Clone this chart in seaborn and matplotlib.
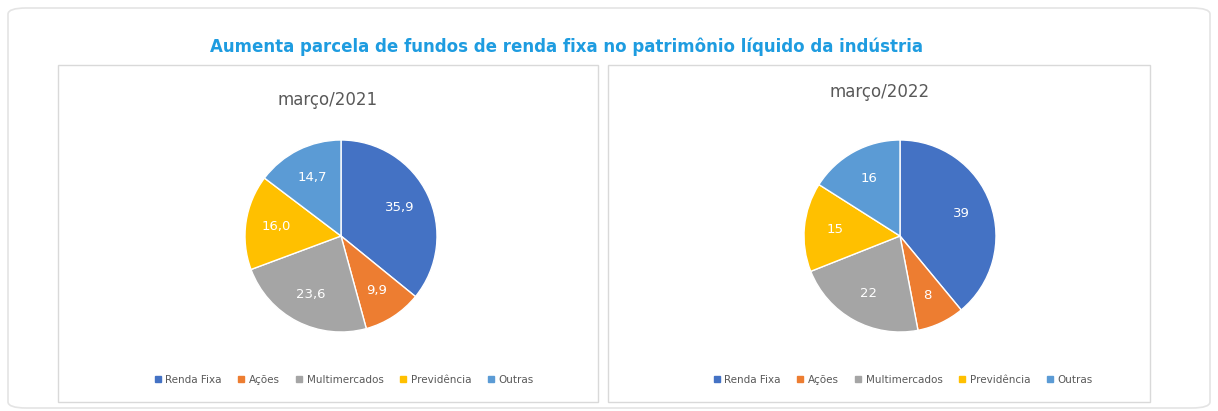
import matplotlib
matplotlib.use("Agg")
import matplotlib.pyplot as plt
import seaborn as sns
from matplotlib.patches import Rectangle, FancyBboxPatch
from matplotlib.lines import Line2D

categories = ["Renda Fixa", "Ações", "Multimercados", "Previdência", "Outras"]
values_2021 = [35.9, 9.9, 23.6, 16.0, 14.7]
labels_2021 = ["35,9", "9,9", "23,6", "16,0", "14,7"]
values_2022 = [39, 8, 22, 15, 16]
labels_2022 = ["39", "8", "22", "15", "16"]
titles = ["março/2021", "março/2022"]
main_title = "Aumenta parcela de fundos de renda fixa no patrimônio líquido da indústria"

sns.set_theme(style="white", font="DejaVu Sans")
colors = sns.color_palette(["#4472C4", "#ED7D31", "#A5A5A5", "#FFC000", "#5B9BD5"])

W, H = 1218, 411
fig = plt.figure(figsize=(W/100, H/100), dpi=100)
fig.patch.set_facecolor("white")

def fx(x): return x / W
def fy(y): return 1 - y / H

fig.patches.append(FancyBboxPatch((fx(8), fy(408)), fx(1202), 400/H,
    boxstyle="round,pad=0,rounding_size=0.015", transform=fig.transFigure,
    fill=False, edgecolor="#e4e4e4", linewidth=1.2))
for x0, x1 in [(58, 598), (608, 1150)]:
    fig.patches.append(Rectangle((fx(x0), fy(402)), fx(x1 - x0), 337/H,
        transform=fig.transFigure, fill=False, edgecolor="#d9d9d9", linewidth=1))

fig.text(fx(567), fy(47), main_title, ha="center", va="center",
         color="#1E9CE0", fontsize=12, fontweight="bold")

panels = [(341, 100, values_2021, labels_2021, titles[0], 328),
          (900, 92, values_2022, labels_2022, titles[1], 880)]
r = 96
for cx, ty, vals, labs, t, tx in panels:
    fig.text(fx(tx), fy(ty), t, ha="center", va="center", color="#595959", fontsize=12)
    ax = fig.add_axes([fx(cx - 100), fy(236 + 100), 200/W, 200/H])
    wedges, texts = ax.pie(vals, labels=labs, colors=colors, startangle=90,
                           counterclock=False, labeldistance=0.68,
                           wedgeprops=dict(edgecolor="white", linewidth=1))
    for tt in texts:
        tt.set_color("white"); tt.set_fontsize(9.5); tt.set_ha("center"); tt.set_va("center")
    ax.set_xlim(-100/r, 100/r); ax.set_ylim(-100/r, 100/r)
    ax.set_aspect("equal"); ax.axis("off")
    handles = [Line2D([], [], marker="s", linestyle="", markersize=4,
                      markerfacecolor=c, markeredgecolor=c) for c in colors]
    fig.legend(handles, categories, loc="center", bbox_to_anchor=(fx(cx + 2), fy(380)),
               ncol=5, frameon=False, fontsize=7.5, labelcolor="#595959",
               handletextpad=0.2, columnspacing=1.4, handlelength=1)

fig.savefig("out.png", dpi=100)
